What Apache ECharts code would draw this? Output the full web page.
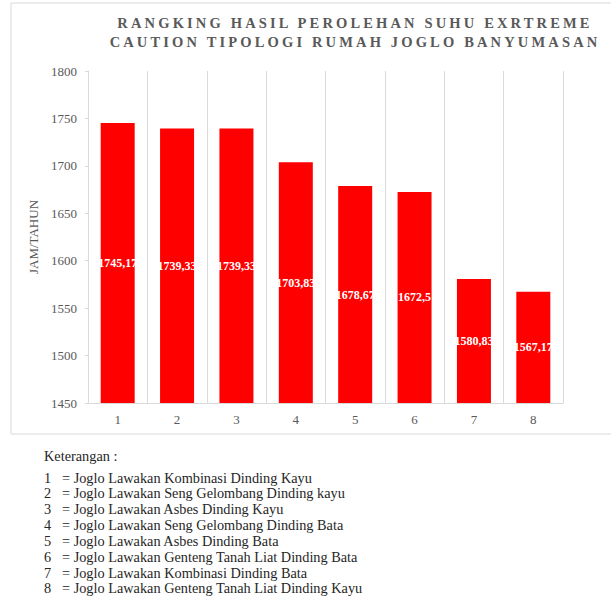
<!DOCTYPE html>
<html>
<head>
<meta charset="utf-8">
<script src="https://cdn.jsdelivr.net/npm/echarts@6/dist/echarts.min.js"></script>
<style>
  html, body { margin: 0; padding: 0; background: #ffffff; }
  #chart { width: 611px; height: 598px; }
</style>
</head>
<body>
<div id="chart"></div>
<script>
// ---- data ----
var titleLines = [
  'RANGKING HASIL PEROLEHAN SUHU EXRTREME',
  'CAUTION TIPOLOGI RUMAH JOGLO BANYUMASAN'
];
var categories = ['1', '2', '3', '4', '5', '6', '7', '8'];
var values = [1745.17, 1739.33, 1739.33, 1703.83, 1678.67, 1672.5, 1580.83, 1567.17];
var yAxisName = 'JAM/TAHUN';
var legendHeading = 'Keterangan :';
var legendDescs = [
  'Joglo Lawakan Kombinasi Dinding Kayu',
  'Joglo Lawakan Seng Gelombang Dinding kayu',
  'Joglo Lawakan Asbes Dinding Kayu',
  'Joglo Lawakan Seng Gelombang Dinding Bata',
  'Joglo Lawakan Asbes Dinding Bata',
  'Joglo Lawakan Genteng Tanah Liat Dinding Bata',
  'Joglo Lawakan Kombinasi Dinding Bata',
  'Joglo Lawakan Genteng Tanah Liat Dinding Kayu'
];

// ---- styling ----
var SERIF = 'Liberation Serif, serif';
var GRAY = '#595959';
var LINE = '#d9d9d9';
var TEXT = '#262626';

var chart = echarts.init(document.getElementById('chart'), null, { renderer: 'svg' });

var graphics = [
  {
    type: 'rect', z: -10, silent: true,
    shape: { x: 11, y: 3, width: 660, height: 431 },
    style: { fill: 'none', stroke: LINE, lineWidth: 1 }
  },
  {
    type: 'text',
    style: { x: 44, y: 456, text: legendHeading, font: '14.3px ' + SERIF, fill: TEXT, textVerticalAlign: 'middle' }
  }
];
legendDescs.forEach(function (d, i) {
  var y = 477.5 + i * 15.85;
  graphics.push({
    type: 'text',
    style: { x: 44, y: y, text: categories[i], font: '14.3px ' + SERIF, fill: TEXT, textVerticalAlign: 'middle' }
  });
  graphics.push({
    type: 'text',
    style: { x: 62, y: y, text: '= ' + d, font: '14.3px ' + SERIF, fill: TEXT, textVerticalAlign: 'middle' }
  });
});

var titleStyle = { fontFamily: SERIF, fontSize: 14.5, fontWeight: 'bold', color: GRAY };

chart.setOption({
  animation: false,
  backgroundColor: '#ffffff',
  title: [
    { text: titleLines[0], left: 355, top: 15, textAlign: 'center', padding: 0, textStyle: titleStyle },
    { text: titleLines[1], left: 355, top: 34.5, textAlign: 'center', padding: 0, textStyle: titleStyle }
  ],
  grid: { left: 88, right: 48, top: 71, bottom: 195, containLabel: false },
  xAxis: {
    type: 'category',
    data: categories,
    boundaryGap: true,
    axisLine: { show: true, lineStyle: { color: LINE, width: 1 } },
    axisTick: { show: false },
    axisLabel: { color: GRAY, fontFamily: SERIF, fontSize: 13, margin: 10 },
    splitLine: { show: true, lineStyle: { color: LINE, width: 1 } }
  },
  yAxis: {
    type: 'value',
    min: 1450,
    max: 1800,
    interval: 50,
    name: yAxisName,
    nameLocation: 'middle',
    nameGap: 39,
    nameRotate: 90,
    nameTextStyle: { color: GRAY, fontFamily: SERIF, fontSize: 13 },
    axisLine: { show: true, lineStyle: { color: LINE, width: 1 } },
    axisTick: { show: true, length: 3, lineStyle: { color: LINE } },
    axisLabel: {
      color: GRAY, fontFamily: SERIF, fontSize: 13, margin: 11,
      formatter: function (v) { return String(v); }
    },
    splitLine: { show: false }
  },
  series: [{
    type: 'bar',
    data: values,
    barWidth: 34,
    itemStyle: { color: '#ff0000' },
    label: {
      show: true,
      position: 'inside',
      color: '#ffffff',
      fontFamily: SERIF,
      fontSize: 12,
      fontWeight: 'bold',
      formatter: function (p) { return String(p.value).replace('.', ','); }
    }
  }],
  graphic: graphics
});

function spaceTitle() {
  var texts = chart.getDom().querySelectorAll('text');
  texts.forEach(function (t) {
    if (titleLines.indexOf(t.textContent) >= 0) {
      t.setAttribute('letter-spacing', '3.15');
    }
  });
}
spaceTitle();
chart.on('finished', spaceTitle);
</script>
</body>
</html>
